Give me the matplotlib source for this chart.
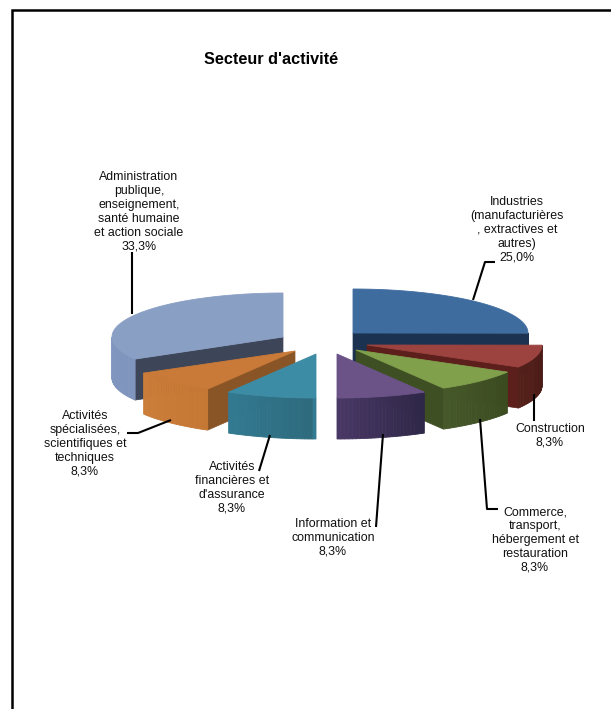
import numpy as np
import matplotlib
matplotlib.use("Agg")
import matplotlib.pyplot as plt
from matplotlib.patches import Polygon, Rectangle

plt.rcParams['font.family'] = ['Liberation Sans', 'DejaVu Sans']

title = "Secteur d'activité"
categories = [
    "Industries\n(manufacturières\n, extractives et\nautres)",
    "Construction",
    "Commerce,\ntransport,\nhébergement et\nrestauration",
    "Information et\ncommunication",
    "Activités\nfinancières et\nd'assurance",
    "Activités\nspécialisées,\nscientifiques et\ntechniques",
    "Administration\npublique,\nenseignement,\nsanté humaine\net action sociale",
]
values = [25.0, 8.3, 8.3, 8.3, 8.3, 8.3, 33.3]

# colours: top face, cut wall, outer wall (start / end of the gradient)
top_colors = ["#3F6C9F", "#9C4340", "#80A04C", "#6B5388", "#3D8CA5", "#C97A38", "#8A9FC4"]
cut_colors = ["#1B3350", "#5C1F1C", "#3F4F24", "#3A2C55", "#2C6678", "#8A5526", "#3D4558"]
wall_start = ["#1B3350", "#55201A", "#46592A", "#4A3866", "#2E6A7C", "#C57733", "#7F95BD"]
wall_end = ["#1B3350", "#481A16", "#3A4B20", "#2E2747", "#327A92", "#CB7D39", "#8398C0"]

# layout in pixels
apex_x = [353, 367, 356, 337, 316, 295, 283]
apex_y = [333, 345, 350, 354, 354, 351, 337]
radius_x = [175, 175, 175, 175, 175, 175, 171]
label_x = [517, 550, 535, 333, 232, 85, 139]
label_y = [230, 436, 540, 538, 488, 444, 212]
leaders = [
    [(473, 300), (485, 262), (495, 262)],
    [(534, 394), (534, 421)],
    [(480, 419), (487, 509), (498, 509)],
    [(383, 434), (376, 527)],
    [(270, 435), (259, 471)],
    [(171, 420), (138, 433), (127, 433)],
    [(132, 314), (132, 252)],
]
ry, depth = 44, 41
draw_order = [6, 5, 4, 0, 1, 2, 3]


def ell(cx, cy, rx, deg):
    t = np.radians(deg)
    return cx + rx * np.sin(t), cy - ry * np.cos(t)


def mix(c0, c1, f):
    a = np.array(matplotlib.colors.to_rgb(c0))
    b = np.array(matplotlib.colors.to_rgb(c1))
    return a + (b - a) * f


def draw_slice(ax, i, a0, a1):
    cx, cy, rx = apex_x[i], apex_y[i], radius_x[i]

    # cut walls that face the viewer
    for ang, normal in ((a0, a0 - 90), (a1, a1 + 90)):
        if np.cos(np.radians(normal)) < -1e-6:
            ex, ey = ell(cx, cy, rx, ang)
            pts = [(cx, cy), (ex, ey), (ex, ey + depth), (cx, cy + depth)]
            ax.add_patch(Polygon(pts, fc=cut_colors[i], ec=cut_colors[i], lw=0.5))

    # outer wall, in small strips for the shading
    lo, hi = max(a0, 90), min(a1, 270)
    if hi > lo:
        steps = np.linspace(lo, hi, 25)
        for k in range(len(steps) - 1):
            x0, y0 = ell(cx, cy, rx, steps[k])
            x1, y1 = ell(cx, cy, rx, steps[k + 1])
            col = mix(wall_start[i], wall_end[i], (steps[k] - a0) / (a1 - a0))
            # the gradient runs left to right on screen
            if steps[k] < 180:
                col = mix(wall_end[i], wall_start[i], (steps[k] - a0) / (a1 - a0))
            pts = [(x0, y0), (x1, y1), (x1, y1 + depth), (x0, y0 + depth)]
            ax.add_patch(Polygon(pts, fc=col, ec=col, lw=0.6))

    # top face
    angs = np.linspace(a0, a1, 60)
    xs, ys = ell(cx, cy, rx, angs)
    pts = [(cx, cy)] + list(zip(xs, ys))
    ax.add_patch(Polygon(pts, fc=top_colors[i], ec=top_colors[i], lw=0.6))


fig = plt.figure(figsize=(6.11, 7.09), dpi=100)
ax = fig.add_axes([0, 0, 1, 1])
ax.set_xlim(0, 611)
ax.set_ylim(709, 0)
ax.axis("off")

# chart frame, right and bottom sides fall outside the picture
ax.add_patch(Rectangle((12, 10), 640, 760, fc="white", ec="black", lw=1.8))

total = sum(values)
bounds = np.concatenate([[0], np.cumsum(values)]) / total * 360

for i in draw_order:
    draw_slice(ax, i, bounds[i], bounds[i + 1])

for line in leaders:
    xs, ys = zip(*line)
    ax.plot(xs, ys, color="black", lw=1.5, solid_capstyle="butt")

for name, val, x, y in zip(categories, values, label_x, label_y):
    txt = name + "\n" + f"{val:.1f}".replace(".", ",") + "%"
    ax.text(x, y, txt, ha="center", va="center", fontsize=8.9, linespacing=1.2, color="#111111")

ax.text(271, 60, title, ha="center", va="center", fontsize=11.7, fontweight="bold")

fig.savefig("out.png", dpi=100)
